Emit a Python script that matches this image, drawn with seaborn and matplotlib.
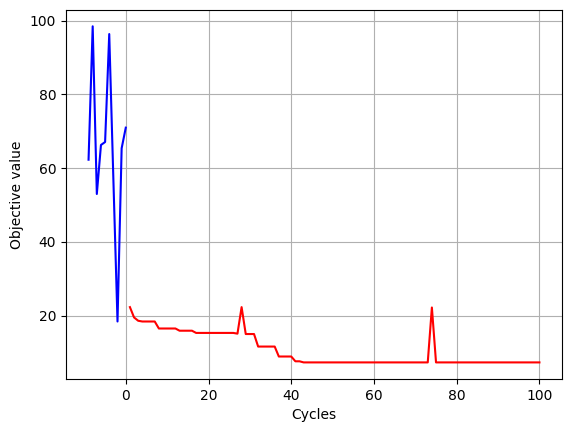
import numpy as np
import pandas as pd
import matplotlib
matplotlib.use("Agg")
import matplotlib.pyplot as plt
import seaborn as sns

# initial random samples (cycles -9..0)
init_cycles = list(range(-9, 1))
init_values = [62.3, 98.5, 53.0, 66.3, 67.1, 96.4, 57.0, 18.4, 65.4, 71.0]

# optimisation cycles (1..100)
opt_cycles = list(range(1, 101))
opt_values = ([22.3, 19.5, 18.6, 18.4, 18.4, 18.4, 18.4]
              + [16.5] * 5
              + [15.9] * 4
              + [15.3] * 10
              + [15.1, 22.3]
              + [15.0] * 3
              + [11.6] * 5
              + [8.9] * 4
              + [7.6] * 2
              + [7.3] * 31
              + [22.2]
              + [7.3] * 26)

df_init = pd.DataFrame({'Cycles': init_cycles, 'Objective value': init_values})
df_opt = pd.DataFrame({'Cycles': opt_cycles, 'Objective value': opt_values})

fig, ax = plt.subplots(figsize=(5.71, 4.32), dpi=100)
fig.subplots_adjust(left=0.1156, right=0.9842, top=0.978, bottom=0.1222)

sns.lineplot(x='Cycles', y='Objective value', data=df_init, color='blue', ax=ax)
sns.lineplot(x='Cycles', y='Objective value', data=df_opt, color='red', ax=ax)

ax.set_xlabel('Cycles')
ax.set_ylabel('Objective value')
ax.grid(True)

plt.savefig('out.png', dpi=100)
